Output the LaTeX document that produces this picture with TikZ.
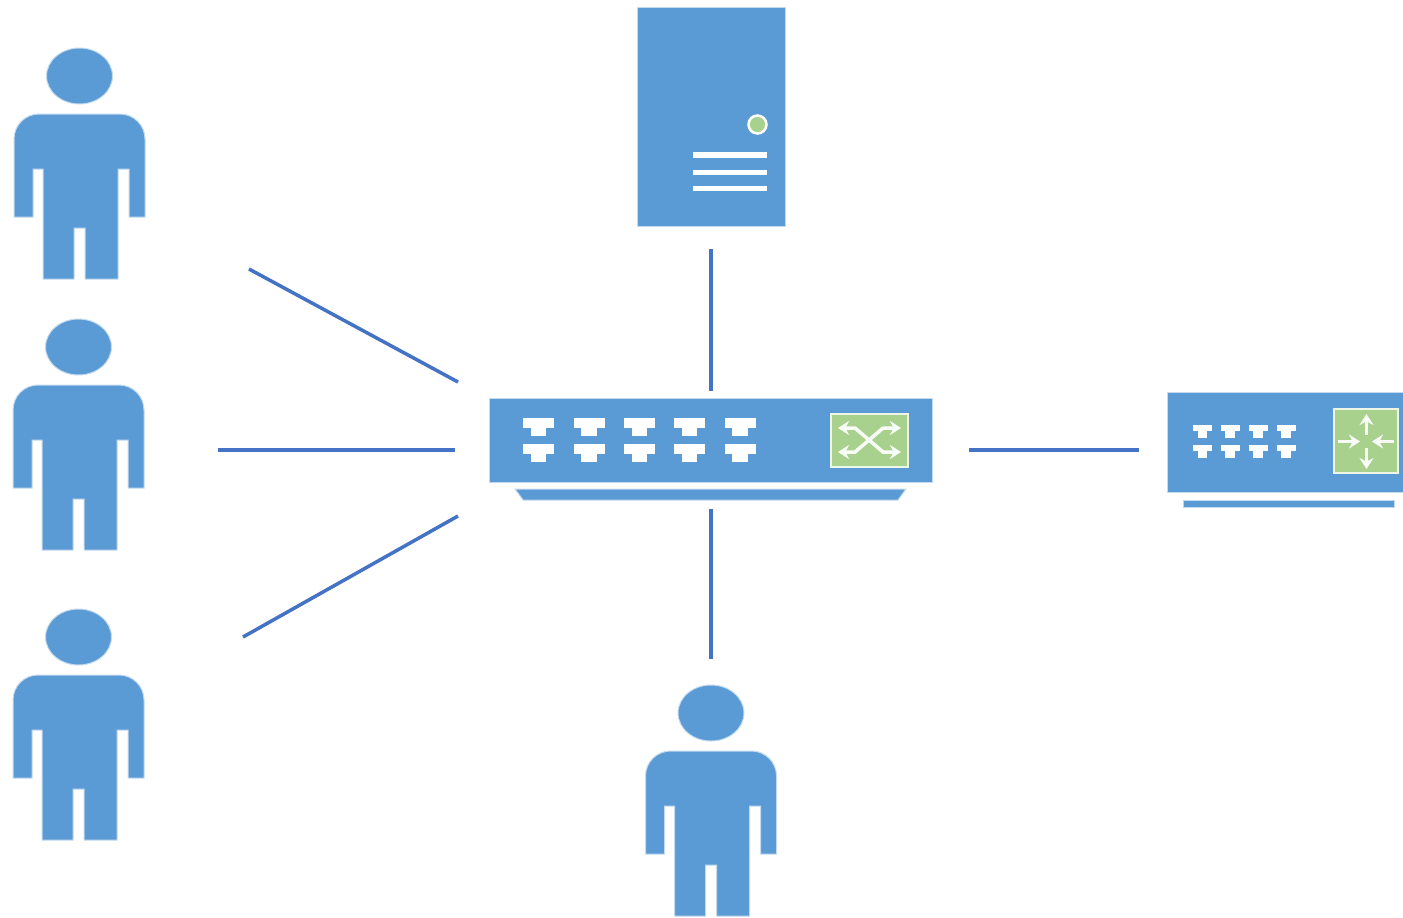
\documentclass[tikz,border=0pt]{standalone}
\usepackage{tikz}
\usetikzlibrary{arrows.meta}
\definecolor{iconblue}{HTML}{5B9BD5}
\definecolor{iconedge}{HTML}{C4DBEF}
\definecolor{icongreen}{HTML}{A9D18E}
\definecolor{linkblue}{HTML}{4472C4}
\tikzset{
	icon/.style={fill=iconblue, draw=iconedge, line width=0.02cm},
	port/.style={fill=white, draw=none},
	panel/.style={fill=icongreen, draw=white!80!icongreen, line width=0.05cm},
	flow/.style={draw=white!92!icongreen, line width=0.07cm, >={Stealth[length=0.22cm, width=0.28cm]}},
	link/.style={draw=linkblue, line width=0.07cm}
}
\def\personicon(#1,#2){
	\begin{scope}[shift={(#1,#2)}]
		\draw[icon] (0, -38) ellipse (33 and 28);
		\draw[icon] (-65.5, 103) -- (-65.5, 25) arc (180:270:25) -- (40.5, 0) arc (270:360:25) -- (65.5, 103) -- (49.5, 103) -- (49.5, 55) -- (38.5, 55) -- (38.5, 165) -- (5.5, 165) -- (5.5, 114) -- (-5.5, 114) -- (-5.5, 165) -- (-36.5, 165) -- (-36.5, 55) -- (-46.5, 55) -- (-46.5, 103) -- cycle;
	\end{scope}
}
\def\porticon(#1,#2,#3,#4,#5){
	\fill[port] ({#1-#3/2}, #2) rectangle ({#1+#3/2}, {#2+#4});
	\fill[port] ({#1-#3/4}, {#2+#4}) rectangle ({#1+#3/4}, {#2+#5});
}

\begin{document}
\begin{tikzpicture}[x=0.02cm, y=-0.02cm]
	%%%%% START %%%%%
	\useasboundingbox (0, 0) rectangle (1403, 917);

	% users
	\personicon(79.5, 114)
	\personicon(78.5, 385)
	\personicon(78.5, 675)
	\personicon(711, 751)

	% server
	\draw[icon] (637, 7) rectangle (785, 226);
	\draw[fill=icongreen, draw=white, line width=0.05cm] (757.5, 124.5) circle (9);
	\foreach \rowy in {155, 172.5, 188.7}
		\fill[white] (693, \rowy-2.6) rectangle (767, \rowy+2.6);

	% switch
	\draw[icon] (489, 398) rectangle (932, 482);
	\draw[icon] (515, 489) -- (906, 489) -- (898, 500) -- (523, 500) -- cycle;
	\foreach \portx in {538.5, 589, 639.3, 689.6, 740} {
		\porticon(\portx, 418, 31, 10, 18)
		\porticon(\portx, 444, 31, 10, 18)
	}
	\draw[panel] (831, 414) rectangle (908, 467);
	\draw[flow, <->] (838, 428) -- (855, 428) -- (883, 452) -- (901, 452);
	\draw[flow, <->] (838, 452) -- (855, 452) -- (883, 428) -- (901, 428);

	% router
	\draw[icon] (1167, 392) rectangle (1410, 492);
	\draw[icon] (1183, 500) rectangle (1394, 507);
	\foreach \portx in {1202.5, 1230, 1258, 1286} {
		\porticon(\portx, 425, 19, 6, 13)
		\porticon(\portx, 445, 19, 6, 13)
	}
	\draw[panel] (1334, 409) rectangle (1398, 473);
	\draw[flow, ->] (1366.5, 435) -- (1366.5, 414);
	\draw[flow, ->] (1366.5, 448) -- (1366.5, 469);
	\draw[flow, ->] (1338, 441.5) -- (1360, 441.5);
	\draw[flow, ->] (1394, 441.5) -- (1372, 441.5);

	% links
	\coordinate (userA) at (249, 269);
	\coordinate (switchA) at (458, 382);
	\coordinate (userB) at (218, 450);
	\coordinate (switchB) at (455, 450);
	\coordinate (userC) at (243, 637);
	\coordinate (switchC) at (458, 516);
	\coordinate (serverS) at (711, 249);
	\coordinate (switchN) at (711, 391);
	\coordinate (switchS) at (711, 509);
	\coordinate (userD) at (711, 659);
	\coordinate (switchE) at (969, 450);
	\coordinate (routerW) at (1139, 450);
	\draw[link] (userA) -- (switchA);
	\draw[link] (userB) -- (switchB);
	\draw[link] (userC) -- (switchC);
	\draw[link] (serverS) -- (switchN);
	\draw[link] (switchS) -- (userD);
	\draw[link] (switchE) -- (routerW);
	%%%%% END %%%%%
\end{tikzpicture}
\end{document}
